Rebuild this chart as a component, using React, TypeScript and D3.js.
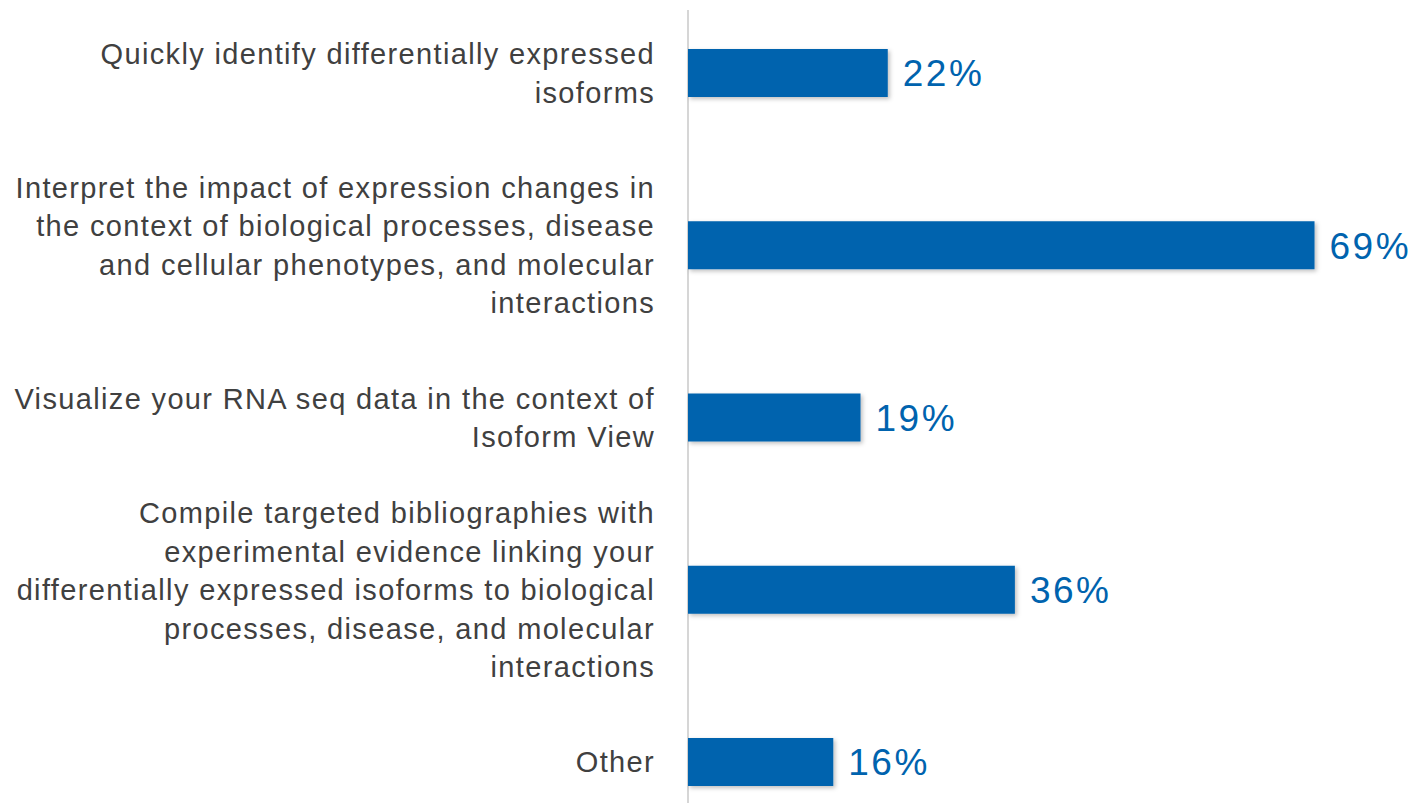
import React from 'react';
import * as d3 from 'd3';

const categories = [
  'Quickly identify differentially expressed isoforms',
  'Interpret the impact of expression changes in the context of biological processes, disease and cellular phenotypes, and molecular interactions',
  'Visualize your RNA seq data in the context of Isoform View',
  'Compile targeted bibliographies with experimental evidence linking your differentially expressed isoforms to biological processes, disease, and molecular interactions',
  'Other',
];

// label lines as they wrap in the picture
const labelLines = [
  ['Quickly identify differentially expressed', 'isoforms'],
  ['Interpret the impact of expression changes in', 'the context of biological processes, disease', 'and cellular phenotypes, and molecular', 'interactions'],
  ['Visualize your RNA seq data in the context of', 'Isoform View'],
  ['Compile targeted bibliographies with', 'experimental evidence linking your', 'differentially expressed isoforms to biological', 'processes, disease, and molecular', 'interactions'],
  ['Other'],
];

const values = [22, 69, 19, 36, 16];

const W = 1411;
const H = 803;
const BLUE = '#0063ae';
const FONT = '"Liberation Sans", Arial, Helvetica, sans-serif';

export default function App() {
  const axisX = 688;
  const x = d3.scaleLinear().domain([0, 100]).range([axisX, axisX + 908]);
  const y = d3.scalePoint<string>().domain(categories).range([73, 762]);
  const barH = 48;
  const lineH = 38.5;

  return (
    <svg width={W} height={H} style={{ position: 'absolute', left: 0, top: 0, background: '#fff' }}>
      <defs>
        <filter id="shadow" x="-5%" y="-20%" width="110%" height="150%">
          <feDropShadow dx="2" dy="2" stdDeviation="2" floodColor="#000" floodOpacity="0.25" />
        </filter>
      </defs>
      <line x1={axisX} x2={axisX} y1={10} y2={H} stroke="#c8c8c8" strokeWidth={1.5} />
      {categories.map((c, i) => {
        const cy = y(c) as number;
        const lines = labelLines[i];
        const top = cy - ((lines.length - 1) * lineH) / 2;
        return (
          <g key={c}>
            <rect
              x={x(0)}
              y={cy - barH / 2}
              width={x(values[i]) - x(0)}
              height={barH}
              fill={BLUE}
              filter="url(#shadow)"
            />
            <text
              x={x(values[i]) + 15}
              y={cy}
              dy="0.36em"
              fill={BLUE}
              fontSize={37}
              letterSpacing={2.5}
              fontFamily={FONT}
            >
              {values[i]}%
            </text>
            <text textAnchor="end" fill="#404040" fontSize={29} letterSpacing={1.35} fontFamily={FONT}>
              {lines.map((l, j) => (
                <tspan key={j} x={655} y={top + j * lineH} dy="0.36em">
                  {l}
                </tspan>
              ))}
            </text>
          </g>
        );
      })}
    </svg>
  );
}
